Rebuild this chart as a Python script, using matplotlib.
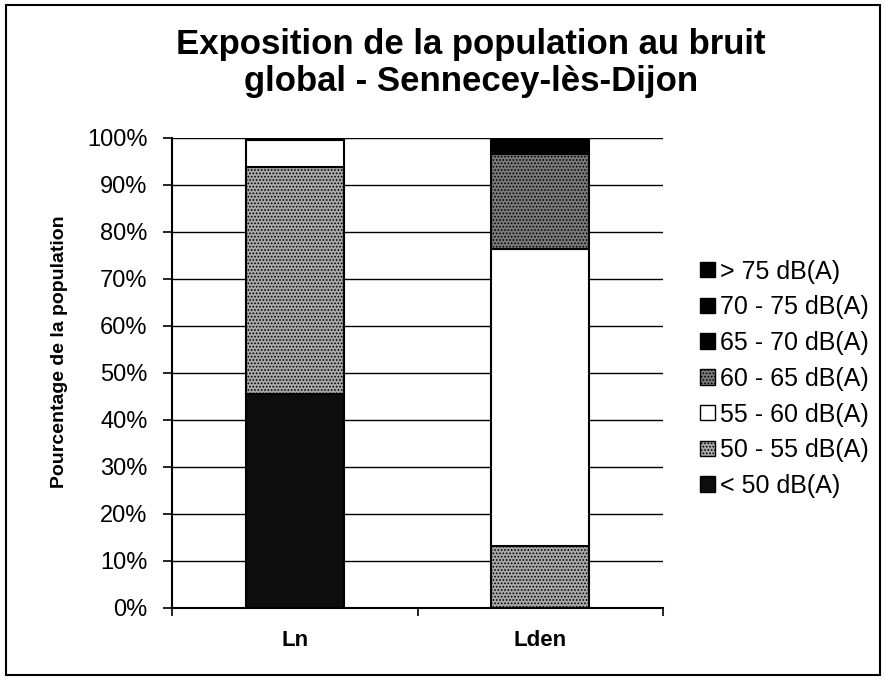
import numpy as np
import matplotlib
matplotlib.use('Agg')
import matplotlib.pyplot as plt
from matplotlib.patches import Rectangle, Patch

plt.rcParams['font.family'] = ['Liberation Sans', 'DejaVu Sans']
plt.rcParams['hatch.linewidth'] = 0.8

# share of the population (%) per noise band, bottom to top
categories = ['Ln', 'Lden']
bands = ['< 50 dB(A)', '50 - 55 dB(A)', '55 - 60 dB(A)', '60 - 65 dB(A)',
         '65 - 70 dB(A)', '70 - 75 dB(A)', '> 75 dB(A)']
ln_values = [45.5, 48.3, 5.7, 0.5, 0.0, 0.0, 0.0]
lden_values = [0.0, 13.2, 63.2, 20.2, 3.4, 0.0, 0.0]
yticks = [0, 10, 20, 30, 40, 50, 60, 70, 80, 90, 100]

# fill and hatch per band
facecolors = ['#0d0d0d', '#a8a8a8', 'white', '#7a7a7a', 'black', 'black', 'black']
hatches = ['', '.....', '', '.....', '', '', '']

values = np.array([ln_values, lden_values])

fig = plt.figure(figsize=(8.85, 6.8), dpi=100)
ax = fig.add_axes([0.1944, 0.1059, 0.5548, 0.6912])

x = np.arange(len(categories))
bottom = np.zeros(len(categories))
handles = []
for i, band in enumerate(bands):
    ax.bar(x, values[:, i], 0.4, bottom=bottom, color=facecolors[i],
           edgecolor='black', linewidth=1.5, hatch=hatches[i], zorder=3)
    bottom += values[:, i]
    handles.append(Patch(facecolor=facecolors[i], edgecolor='black',
                         hatch=hatches[i], linewidth=1.0, label=band))

ax.set_xlim(-0.5, 1.5)
ax.set_ylim(0, 100)
ax.set_yticks(yticks)
ax.set_yticklabels([f'{t}%' for t in yticks], fontsize=17)
ax.yaxis.grid(True, color='black', linewidth=1.0, zorder=0)
ax.set_axisbelow(True)

# x ticks sit between categories, labels in the middle
ax.set_xticks([-0.5, 0.5, 1.5])
ax.set_xticklabels([])
ax.set_xticks(x, minor=True)
ax.set_xticklabels(categories, minor=True, fontsize=16, fontweight='bold')
ax.tick_params(axis='x', which='minor', length=0, pad=16)
ax.tick_params(axis='x', which='major', length=6, width=1.2, direction='out')
ax.tick_params(axis='y', length=6.5, width=1.2, direction='out', pad=11)

for side in ['top', 'right']:
    ax.spines[side].set_visible(False)
for side in ['left', 'bottom']:
    ax.spines[side].set_linewidth(1.5)

ax.set_ylabel('Pourcentage de la population', fontsize=14, fontweight='bold')
ax.yaxis.set_label_coords(-0.212, 0.545)

fig.text(0.532, 0.908, 'Exposition de la population au bruit\nglobal - Sennecey-lès-Dijon',
         ha='center', va='center', fontsize=25, fontweight='bold', linespacing=1.15)

leg = fig.legend(handles=handles[::-1], loc='center left',
                 bbox_to_anchor=(0.78, 0.443), frameon=False, fontsize=18,
                 handlelength=0.58, handleheight=0.58, handletextpad=0.2,
                 labelspacing=0.47, borderaxespad=0)

# outer border of the chart
fig.patches.append(Rectangle((0.0068, 0.0074), 0.987, 0.985, transform=fig.transFigure,
                             fill=False, edgecolor='black', linewidth=1.5))

fig.savefig('out.png', dpi=100)
